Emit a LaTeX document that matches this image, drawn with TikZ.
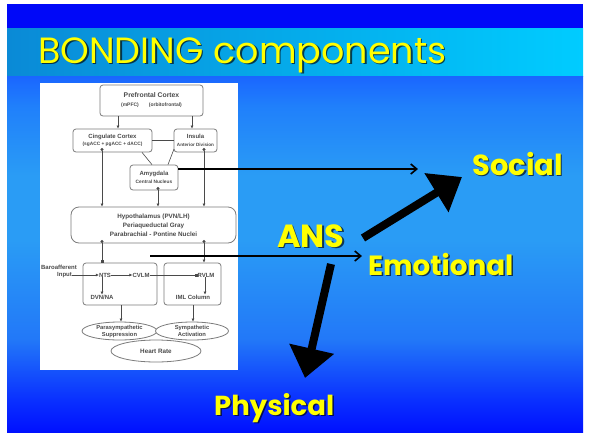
\documentclass[tikz,border=0pt]{standalone}
\usepackage{fontspec}
\setmainfont{Poppins}
\newfontfamily\diagfont{Liberation Sans}
\usetikzlibrary{arrows.meta,shapes.geometric,calc}
\definecolor{topband}{HTML}{0008F8}
\definecolor{titleL}{HTML}{0A8AD6}
\definecolor{titleR}{HTML}{00CCFF}
\definecolor{lab}{HTML}{FFFF00}
\definecolor{dgray}{HTML}{4A4A4A}
\definecolor{lgray}{HTML}{7C7C7C}
\definecolor{bA}{HTML}{0010FF}
\definecolor{bB}{HTML}{0A30FF}
\definecolor{bC}{HTML}{2278F8}
\definecolor{bD}{HTML}{2A9CF5}
\definecolor{bE}{HTML}{2080FB}
\definecolor{bF}{HTML}{1A66FF}
\pgfdeclareverticalshading{bodyshade}{100bp}{color(0bp)=(bA); color(25bp)=(bA); color(29.5bp)=(bB); color(38bp)=(bC); color(52bp)=(bD); color(61bp)=(bD); color(70.7bp)=(bE); color(75bp)=(bF); color(100bp)=(bF)}
\tikzset{
  dbox/.style={draw=lgray, line width=0.8pt, rounded corners=3pt, fill=white, align=center, text=dgray, inner sep=0pt},
  dtxt/.style={text=dgray, font=\diagfont\bfseries\fontsize{6}{7}\selectfont, inner sep=0pt, align=center},
  dell/.style={ellipse, draw=lgray, line width=0.8pt, fill=white, inner sep=0pt},
  darr/.style={draw=dgray, line width=0.6pt, -{Latex[length=3pt,width=3pt]}},
  dln/.style={draw=dgray, line width=0.6pt},
  dotarr/.style={draw=dgray, line width=0.6pt, {Circle[length=3pt]}-{Latex[length=3pt,width=3pt]}},
  dotsq/.style={draw=dgray, line width=0.6pt, {Circle[length=3pt]}-{Square[length=2.5pt]}},
  thinarr/.style={draw=black, line width=1.6pt, -{Straight Barb[length=6pt,width=10pt]}},
  thickarr/.style={draw=black, line width=8pt, -{Triangle[length=30pt,width=44pt]}},
  lbl/.style={text=lab, font=\bfseries, inner sep=0pt, anchor=base west},
  shd/.style={text=black, opacity=0.65, font=\bfseries, inner sep=0pt, anchor=base west},
}
\begin{document}
\begin{tikzpicture}[x=1pt,y=-1pt]
\useasboundingbox (0,0) rectangle (590,432);
\fill[white] (0,0) rectangle (590,432);
% slide background
\fill[topband] (7,4) rectangle (583,28);
\shade[left color=titleL, right color=titleR] (7,28) rectangle (583,76);
\shade[shading=bodyshade] (7,76) rectangle (583,432);
% title
\node[text=black, opacity=0.65, font=\fontsize{36.5}{36.5}\selectfont, inner sep=0pt, anchor=base west] (titlesh) at (39.5,64.5) {BONDING components};
\node[text=lab, font=\fontsize{36.5}{36.5}\selectfont, inner sep=0pt, anchor=base west] (title) at (38,63) {BONDING components};
% embedded diagram
\fill[white] (40,83) rectangle (238,370);
\node[dbox, minimum width=103pt, minimum height=31pt, font=\diagfont\bfseries\fontsize{6.8}{9}\selectfont] (pfc) at (151.5,100.5) {Prefrontal Cortex\\{\fontsize{5}{6}\selectfont(mPFC)\qquad(orbitofrontal)}};
\node[dbox, minimum width=79pt, minimum height=23pt, font=\diagfont\bfseries\fontsize{6}{7.5}\selectfont] (cing) at (112.5,140.5) {Cingulate Cortex\\{\fontsize{4.8}{6}\selectfont(sgACC + pgACC + dACC)}};
\node[dbox, minimum width=43pt, minimum height=23pt, font=\diagfont\bfseries\fontsize{6}{7.5}\selectfont] (ins) at (195.5,140.5) {Insula\\{\fontsize{4.6}{6}\selectfont Anterior Division}};
\node[dbox, minimum width=48pt, minimum height=25pt, font=\diagfont\bfseries\fontsize{6}{7.5}\selectfont] (amy) at (154,177.5) {Amygdala\\{\fontsize{4.8}{6}\selectfont Central Nucleus}};
\node[dbox, rounded corners=8pt, minimum width=165pt, minimum height=36pt, font=\diagfont\bfseries\fontsize{6.3}{8.8}\selectfont] (hyp) at (153.5,225) {Hypothalamus (PVN/LH)\\Periaqueductal Gray\\Parabrachial - Pontine Nuclei};
\node[dbox, minimum width=74pt, minimum height=42pt] (llbox) at (120,284) {};
\node[dbox, minimum width=57pt, minimum height=42pt] (lrbox) at (192.5,284) {};
\node[dtxt] (baro) at (59,267) {Baroafferent};
\node[dtxt] (inp) at (64.5,275) {Input};
\node[dtxt] (nts) at (105,275) {NTS};
\node[dtxt] (cvlm) at (141,275) {CVLM};
\node[dtxt] (rvlm) at (206,275) {RVLM};
\node[dtxt] (dvn) at (102,297) {DVN/NA};
\node[dtxt] (iml) at (193,297) {IML Column};
\node[dell, minimum width=75pt, minimum height=18pt] (para) at (119.5,331) {};
\node[dtxt, font=\diagfont\bfseries\fontsize{5.8}{7}\selectfont] (parat) at (para.center) {Parasympathetic\\Suppression};
\node[dell, minimum width=73pt, minimum height=18pt] (symp) at (192,331) {};
\node[dtxt, font=\diagfont\bfseries\fontsize{5.8}{7}\selectfont] (sympt) at (symp.center) {Sympathetic\\Activation};
\node[dell, minimum width=90pt, minimum height=22pt] (hr) at (156,351) {};
\node[dtxt, font=\diagfont\bfseries\fontsize{6.3}{7}\selectfont] (hrt) at (hr.center) {Heart Rate};
% diagram connectors
\draw[darr] (118,0 |- pfc.south) -- (118,0 |- cing.north);
\draw[darr] (192,0 |- pfc.south) -- (192,0 |- ins.north);
\draw[dln] (cing.east) -- (ins.west);
\draw[dln] (142,0 |- cing.south) -- (152,0 |- amy.north);
\draw[dln] (174,149) -- (168,0 |- amy.north);
\draw[dotarr] (102,148) -- (102,0 |- hyp.north);
\draw[dotarr] (158,187) -- (158,0 |- hyp.north);
\draw[dotarr] (204,148) -- (204,0 |- hyp.north);
\draw[dotsq] (102,240) -- (102,0 |- llbox.north);
\draw[dotarr] (204,240) -- (204,0 |- lrbox.north);
\draw[darr] (inp.east) -- (nts.west);
\draw[darr] (nts.east) -- (cvlm.west);
\draw[dln, -{Square[length=2.5pt]}] (cvlm.east) -- (rvlm.west);
\draw[darr] (nts.south -| 102,0) -- (dvn.north -| 102,0);
\draw[darr] (205,0 |- rvlm.south) -- (205,0 |- iml.north);
\draw[darr] (121,0 |- llbox.south) -- (121,0 |- para.north);
\draw[darr] (193,0 |- lrbox.south) -- (193,0 |- symp.north);
% labels
\node[shd, font=\bfseries\fontsize{29}{29}\selectfont] (socialsh) at (473.5,176.5) {Social};
\node[lbl, font=\bfseries\fontsize{29}{29}\selectfont] (social) at (472,175) {Social};
\node[shd, font=\bfseries\fontsize{32}{32}\selectfont] (anssh) at (278.5,248.5) {ANS};
\node[lbl, font=\bfseries\fontsize{32}{32}\selectfont] (ans) at (277,247) {ANS};
\node[shd, font=\bfseries\fontsize{27.8}{28}\selectfont] (emosh) at (369.5,276.5) {Emotional};
\node[lbl, font=\bfseries\fontsize{27.8}{28}\selectfont] (emo) at (368,275) {Emotional};
\node[shd, font=\bfseries\fontsize{27.5}{28}\selectfont] (physh) at (215.5,416.5) {Physical};
\node[lbl, font=\bfseries\fontsize{27.5}{28}\selectfont] (phy) at (214,415) {Physical};
% main arrows
\coordinate (t1) at (418,169);
\draw[thinarr] (amy.east |- t1) -- (t1);
\coordinate (e0) at (150,256);
\coordinate (e1) at (362,256);
\draw[thinarr] (e0) -- (e1);
\coordinate (s0) at (363,238);
\coordinate (s1) at (462,177);
\draw[thickarr] (s0) -- (s1);
\coordinate (p0) at (331,264);
\coordinate (p1) at (305,378);
\draw[thickarr] (p0) -- (p1);
\end{tikzpicture}
\end{document}
